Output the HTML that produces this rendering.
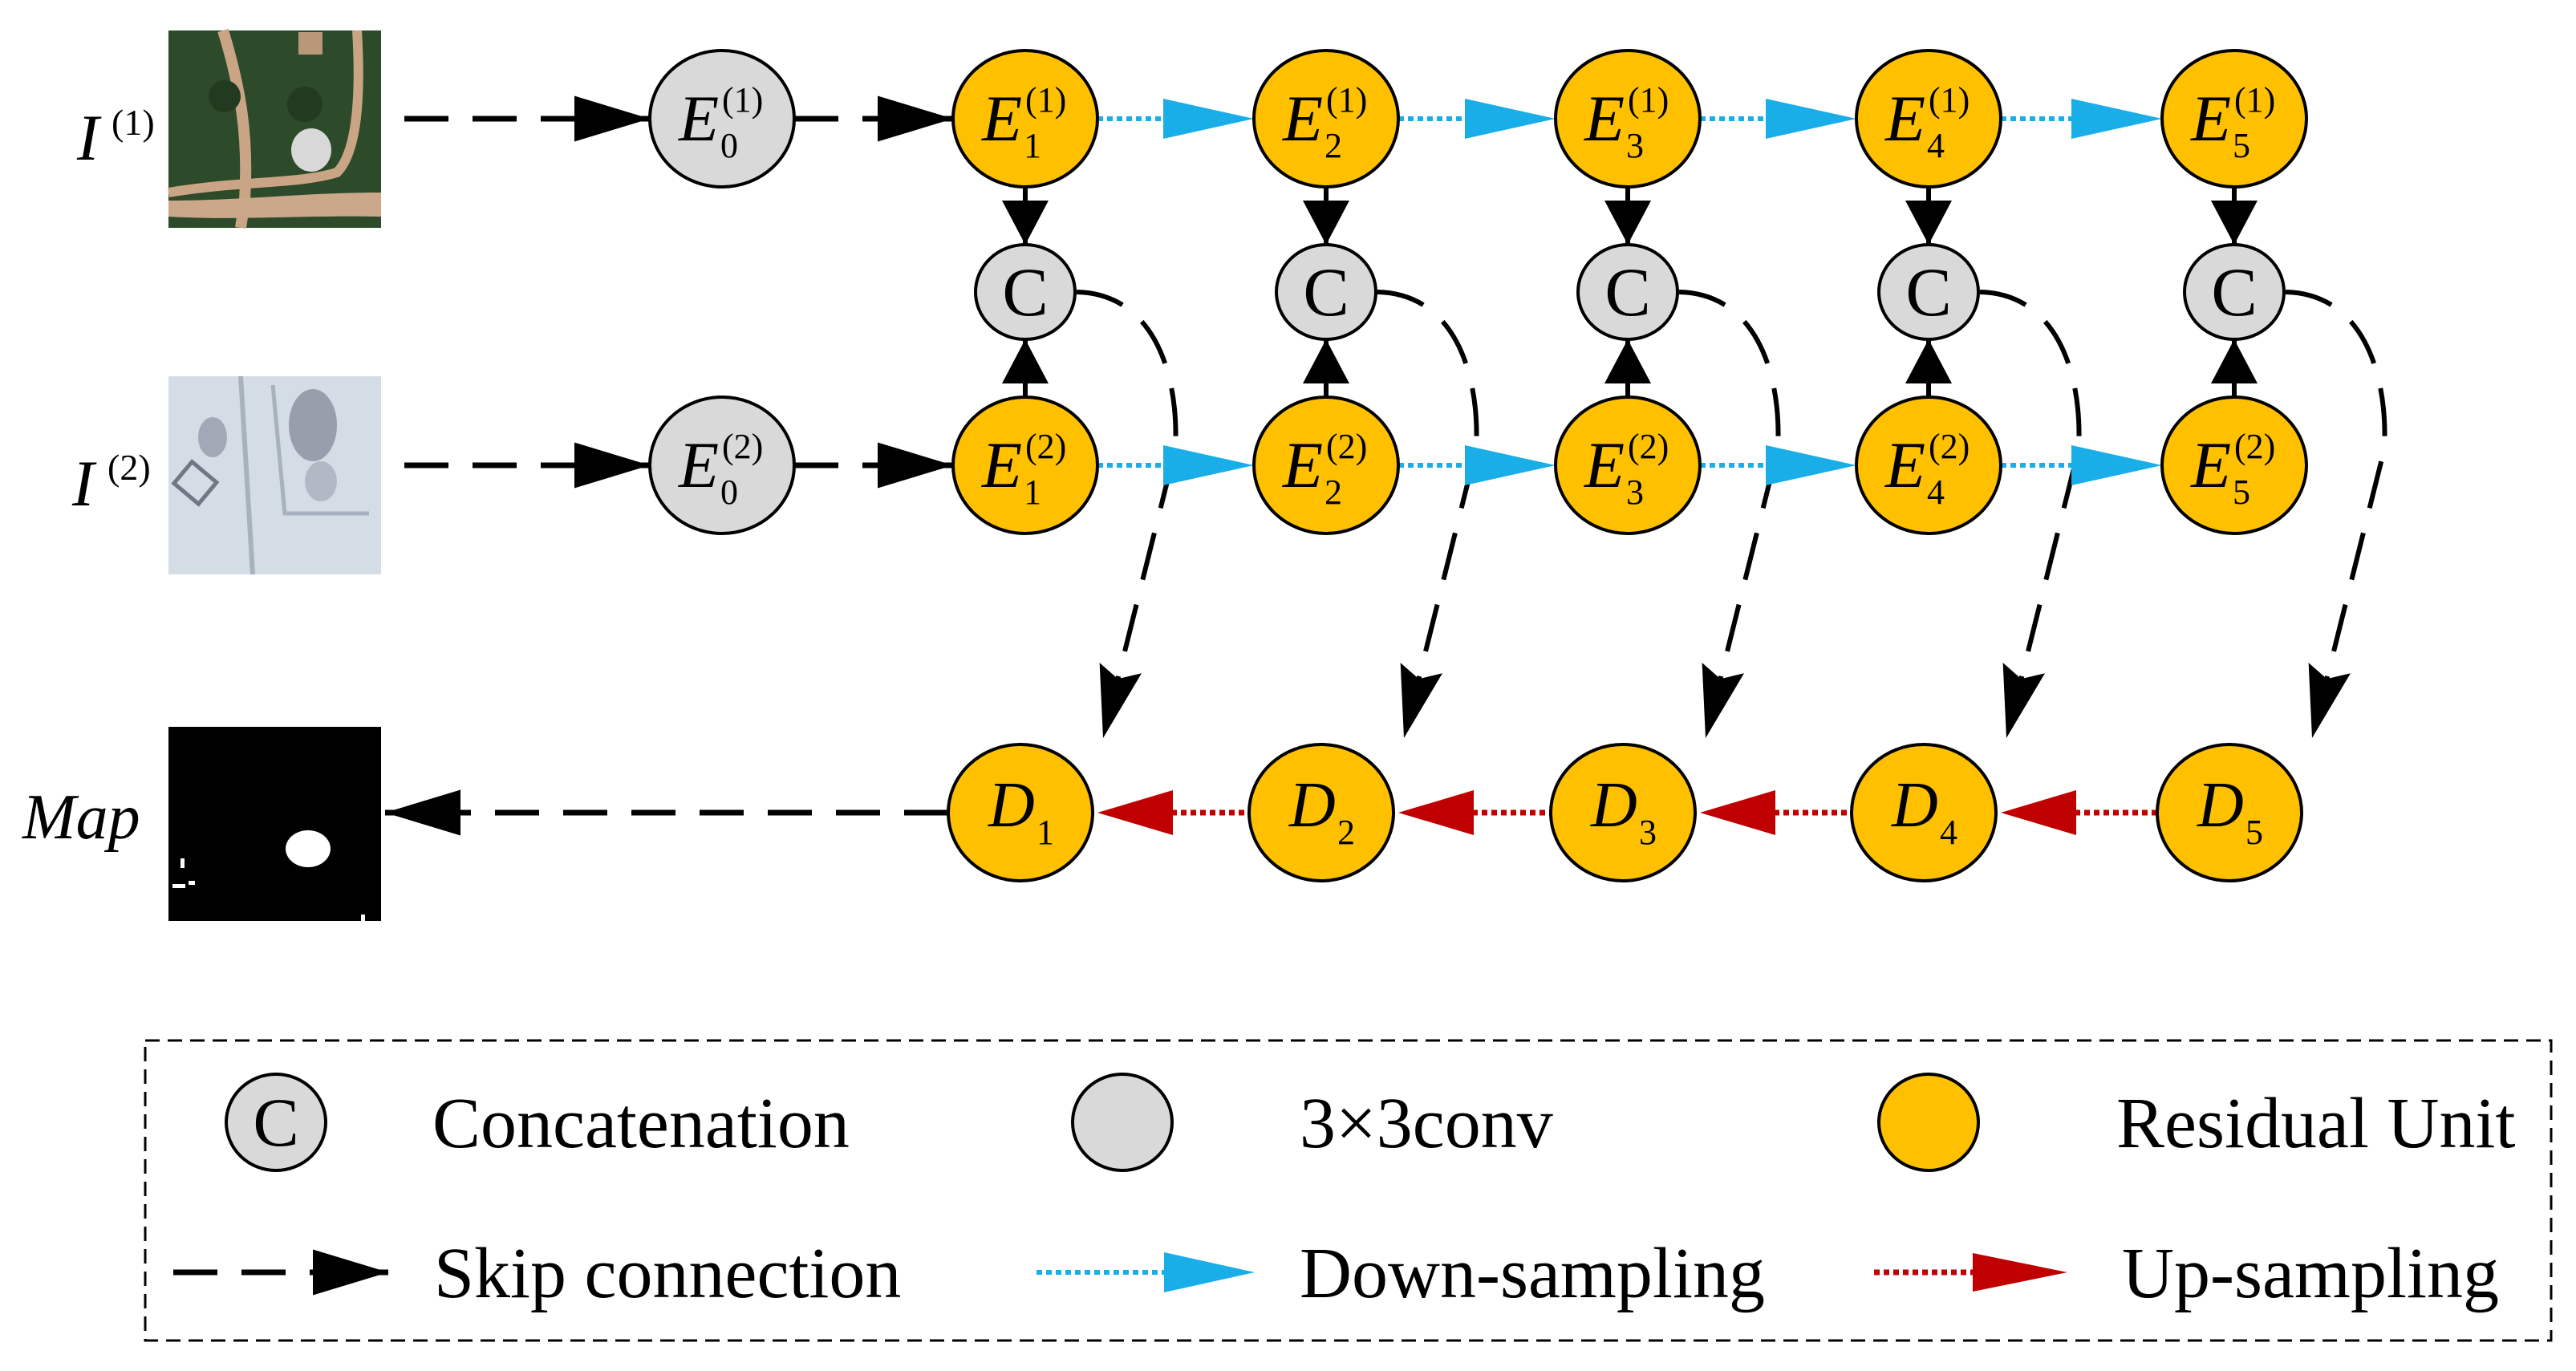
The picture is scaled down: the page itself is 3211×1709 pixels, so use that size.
<!DOCTYPE html>
<html><head><meta charset="utf-8"><style>
html,body{margin:0;padding:0;background:#fff;}
svg{display:block;}
text{font-family:"Liberation Serif",serif;fill:#000;}
.it{font-style:italic;}
</style></head><body>
<svg width="3211" height="1709" viewBox="0 0 3211 1709" xmlns="http://www.w3.org/2000/svg">
<defs>
<marker id="ab" markerUnits="userSpaceOnUse" markerWidth="100" markerHeight="60" refX="94" refY="28.5" orient="auto"><path d="M0,0 L94,28.5 L0,57 z" fill="#000"/></marker>
<marker id="av" markerUnits="userSpaceOnUse" markerWidth="60" markerHeight="60" refX="55" refY="29" orient="auto"><path d="M0,0 L55,29 L0,58 z" fill="#000"/></marker>
<marker id="ac" markerUnits="userSpaceOnUse" markerWidth="100" markerHeight="60" refX="90" refY="27" orient="auto"><path d="M0,0 L90,27 L0,54 L14,27 z" fill="#000"/></marker>
</defs>
<rect width="3211" height="1709" fill="#fff"/>

<!-- images -->
<g>
<rect x="210" y="38" width="265" height="246" fill="#2d4a2a"/>
<path d="M278,38 C300,110 310,170 305,250 L300,284" stroke="#c9a585" stroke-width="14" fill="none"/>
<path d="M445,38 C450,120 445,190 420,215 C370,230 300,225 210,240" stroke="#c9a585" stroke-width="12" fill="none"/>
<path d="M210,250 C300,250 380,240 475,240 L475,270 C380,268 300,275 210,270 z" fill="#cba88a"/>
<rect x="372" y="40" width="30" height="28" fill="#b99779"/>
<ellipse cx="388" cy="187" rx="25" ry="27" fill="#d8d8d8"/>
<circle cx="280" cy="120" r="20" fill="#223a20"/><circle cx="380" cy="130" r="22" fill="#223a20"/>
</g>
<g>
<rect x="210" y="469" width="265" height="247" fill="#c9d4df"/>
<rect x="210" y="469" width="265" height="247" fill="#dfe6ee" opacity="0.5"/>
<ellipse cx="390" cy="530" rx="30" ry="45" fill="#7c8592" opacity="0.7"/>
<ellipse cx="265" cy="545" rx="18" ry="25" fill="#8a939f" opacity="0.7"/>
<ellipse cx="400" cy="600" rx="20" ry="25" fill="#9aa3ae" opacity="0.6"/>
<path d="M300,469 L315,716" stroke="#a7b2be" stroke-width="6" fill="none"/>
<path d="M340,480 L355,640 L460,640" stroke="#a7b2be" stroke-width="5" fill="none"/>
<rect x="225" y="585" width="40" height="35" fill="none" stroke="#6f7884" stroke-width="5" transform="rotate(40 245 600)"/>
</g>
<g>
<rect x="210" y="906" width="265" height="242" fill="#000"/>
<ellipse cx="384" cy="1058" rx="28" ry="23" fill="#fff"/>
<rect x="225" y="1070" width="5" height="12" fill="#fff"/><rect x="215" y="1102" width="16" height="5" fill="#fff"/><rect x="235" y="1098" width="8" height="5" fill="#fff"/><rect x="450" y="1140" width="5" height="8" fill="#fff"/>
</g>

<!-- left labels -->
<text class="it" x="96" y="199" font-size="82">I</text><text x="139" y="168" font-size="46">(1)</text>
<text class="it" x="90" y="630" font-size="82">I</text><text x="134" y="598" font-size="46">(2)</text>
<text class="it" x="28" y="1045" font-size="80">Map</text>

<!-- dashed input arrows -->
<g stroke="#000" stroke-width="7" stroke-dasharray="55 30" fill="none">
<path d="M504,148 L810,148" marker-end="url(#ab)"/>
<path d="M504,580 L810,580" marker-end="url(#ab)"/>
<path d="M990,148 L1188,148" marker-end="url(#ab)"/>
<path d="M990,580 L1188,580" marker-end="url(#ab)"/>
<path d="M1182,1013 L480,1013" marker-end="url(#ab)"/>
</g>

<!-- curved skip connections -->
<g stroke="#000" stroke-width="6" stroke-dasharray="60 32" fill="none">
<path d="M1342,364 C1440,366 1470,470 1465,560 L1375,920" marker-end="url(#ac)"/>
<path d="M1717,364 C1815,366 1845,470 1840,560 L1750,920" marker-end="url(#ac)"/>
<path d="M2093,364 C2191,366 2221,470 2216,560 L2126,920" marker-end="url(#ac)"/>
<path d="M2468,364 C2566,366 2596,470 2591,560 L2501,920" marker-end="url(#ac)"/>
<path d="M2849,364 C2947,366 2977,470 2972,560 L2882,920" marker-end="url(#ac)"/>
</g>

<!-- vertical arrows -->
<g stroke="#000" stroke-width="6" fill="none">
<path d="M1278,233 L1278,305" marker-end="url(#av)"/><path d="M1278,495 L1278,423" marker-end="url(#av)"/>
<path d="M1653,233 L1653,305" marker-end="url(#av)"/><path d="M1653,495 L1653,423" marker-end="url(#av)"/>
<path d="M2029,233 L2029,305" marker-end="url(#av)"/><path d="M2029,495 L2029,423" marker-end="url(#av)"/>
<path d="M2404,233 L2404,305" marker-end="url(#av)"/><path d="M2404,495 L2404,423" marker-end="url(#av)"/>
<path d="M2785,233 L2785,305" marker-end="url(#av)"/><path d="M2785,495 L2785,423" marker-end="url(#av)"/>
</g>

<!-- blue down-sampling -->
<g stroke="#1aaee8" stroke-width="6" stroke-dasharray="7 5">
<path d="M1368,148 L1452,148"/><path d="M1743,148 L1828,148"/><path d="M2119,148 L2203,148"/><path d="M2494,148 L2584,148"/>
<path d="M1368,580 L1452,580"/><path d="M1743,580 L1828,580"/><path d="M2119,580 L2203,580"/><path d="M2494,580 L2584,580"/>
<path d="M1292,1586 L1452,1586"/>
</g>
<g fill="#1aaee8">
<polygon points="1450,123 1563,148 1450,173"/><polygon points="1826,123 1939,148 1826,173"/><polygon points="2201,123 2314,148 2201,173"/><polygon points="2582,123 2695,148 2582,173"/>
<polygon points="1450,555 1563,580 1450,605"/><polygon points="1826,555 1939,580 1826,605"/><polygon points="2201,555 2314,580 2201,605"/><polygon points="2582,555 2695,580 2582,605"/>
<polygon points="1451,1561 1564,1586 1451,1611"/>
</g>

<!-- red up-sampling -->
<g stroke="#c00000" stroke-width="7" stroke-dasharray="7 5">
<path d="M1460,1013 L1563,1013"/><path d="M1835,1013 L1939,1013"/><path d="M2211,1013 L2314,1013"/><path d="M2586,1013 L2695,1013"/>
<path d="M2336,1586 L2462,1586"/>
</g>
<g fill="#c00000">
<polygon points="1368,1013 1462,985 1462,1041"/><polygon points="1743,1013 1837,985 1837,1041"/><polygon points="2119,1013 2213,985 2213,1041"/><polygon points="2494,1013 2588,985 2588,1041"/>
<polygon points="2577,1586 2459,1562 2459,1610"/>
</g>

<!-- nodes -->
<g stroke="#000" stroke-width="4">
<ellipse cx="900" cy="148" rx="90" ry="85" fill="#d9d9d9"/>
<ellipse cx="900" cy="580" rx="90" ry="85" fill="#d9d9d9"/>
<g fill="#ffc000">
<ellipse cx="1278" cy="148" rx="90" ry="85"/><ellipse cx="1653" cy="148" rx="90" ry="85"/><ellipse cx="2029" cy="148" rx="90" ry="85"/><ellipse cx="2404" cy="148" rx="90" ry="85"/><ellipse cx="2785" cy="148" rx="90" ry="85"/>
<ellipse cx="1278" cy="580" rx="90" ry="85"/><ellipse cx="1653" cy="580" rx="90" ry="85"/><ellipse cx="2029" cy="580" rx="90" ry="85"/><ellipse cx="2404" cy="580" rx="90" ry="85"/><ellipse cx="2785" cy="580" rx="90" ry="85"/>
<ellipse cx="1272" cy="1013" rx="90" ry="85"/><ellipse cx="1647" cy="1013" rx="90" ry="85"/><ellipse cx="2023" cy="1013" rx="90" ry="85"/><ellipse cx="2398" cy="1013" rx="90" ry="85"/><ellipse cx="2779" cy="1013" rx="90" ry="85"/>
</g>
<g fill="#d9d9d9">
<ellipse cx="1278" cy="364" rx="62" ry="59"/><ellipse cx="1653" cy="364" rx="62" ry="59"/><ellipse cx="2029" cy="364" rx="62" ry="59"/><ellipse cx="2404" cy="364" rx="62" ry="59"/><ellipse cx="2785" cy="364" rx="62" ry="59"/>
</g>
</g>

<!-- node labels -->
<g font-size="82">
<text x="1278" y="393" text-anchor="middle" font-size="86">C</text><text x="1653" y="393" text-anchor="middle" font-size="86">C</text><text x="2029" y="393" text-anchor="middle" font-size="86">C</text><text x="2404" y="393" text-anchor="middle" font-size="86">C</text><text x="2785" y="393" text-anchor="middle" font-size="86">C</text>
</g>
<g>
<text class="it" x="846" y="175" font-size="82">E</text><text x="900" y="139" font-size="44">(1)</text><text x="898" y="196" font-size="44">0</text>
<text class="it" x="846" y="607" font-size="82">E</text><text x="900" y="571" font-size="44">(2)</text><text x="898" y="628" font-size="44">0</text>

<text class="it" x="1224" y="175" font-size="82">E</text><text x="1278" y="139" font-size="44">(1)</text><text x="1276" y="196" font-size="44">1</text>
<text class="it" x="1599" y="175" font-size="82">E</text><text x="1653" y="139" font-size="44">(1)</text><text x="1651" y="196" font-size="44">2</text>
<text class="it" x="1975" y="175" font-size="82">E</text><text x="2029" y="139" font-size="44">(1)</text><text x="2027" y="196" font-size="44">3</text>
<text class="it" x="2350" y="175" font-size="82">E</text><text x="2404" y="139" font-size="44">(1)</text><text x="2402" y="196" font-size="44">4</text>
<text class="it" x="2731" y="175" font-size="82">E</text><text x="2785" y="139" font-size="44">(1)</text><text x="2783" y="196" font-size="44">5</text>

<text class="it" x="1224" y="607" font-size="82">E</text><text x="1278" y="571" font-size="44">(2)</text><text x="1276" y="628" font-size="44">1</text>
<text class="it" x="1599" y="607" font-size="82">E</text><text x="1653" y="571" font-size="44">(2)</text><text x="1651" y="628" font-size="44">2</text>
<text class="it" x="1975" y="607" font-size="82">E</text><text x="2029" y="571" font-size="44">(2)</text><text x="2027" y="628" font-size="44">3</text>
<text class="it" x="2350" y="607" font-size="82">E</text><text x="2404" y="571" font-size="44">(2)</text><text x="2402" y="628" font-size="44">4</text>
<text class="it" x="2731" y="607" font-size="82">E</text><text x="2785" y="571" font-size="44">(2)</text><text x="2783" y="628" font-size="44">5</text>

<text class="it" x="1232" y="1030" font-size="80">D</text><text x="1292" y="1052" font-size="44">1</text>
<text class="it" x="1607" y="1030" font-size="80">D</text><text x="1667" y="1052" font-size="44">2</text>
<text class="it" x="1983" y="1030" font-size="80">D</text><text x="2043" y="1052" font-size="44">3</text>
<text class="it" x="2358" y="1030" font-size="80">D</text><text x="2418" y="1052" font-size="44">4</text>
<text class="it" x="2739" y="1030" font-size="80">D</text><text x="2799" y="1052" font-size="44">5</text>
</g>

<!-- legend -->
<rect x="181" y="1297" width="2999" height="374" fill="none" stroke="#000" stroke-width="3" stroke-dasharray="18 10"/>
<ellipse cx="344" cy="1399" rx="62" ry="60" fill="#d9d9d9" stroke="#000" stroke-width="4"/>
<text x="344" y="1428" text-anchor="middle" font-size="86">C</text>
<text x="539" y="1430" font-size="90">Concatenation</text>
<ellipse cx="1399" cy="1399" rx="62" ry="60" fill="#d9d9d9" stroke="#000" stroke-width="4"/>
<text x="1620" y="1430" font-size="90">3×3conv</text>
<ellipse cx="2404" cy="1399" rx="62" ry="60" fill="#ffc000" stroke="#000" stroke-width="4"/>
<text x="2638" y="1430" font-size="90">Residual Unit</text>
<path d="M216,1586 L484,1586" stroke="#000" stroke-width="7" stroke-dasharray="55 30" fill="none" marker-end="url(#ab)"/>
<text x="541" y="1617" font-size="90">Skip connection</text>
<text x="1620" y="1617" font-size="90">Down-sampling</text>
<text x="2645" y="1617" font-size="90">Up-sampling</text>
</svg>
</body></html>
